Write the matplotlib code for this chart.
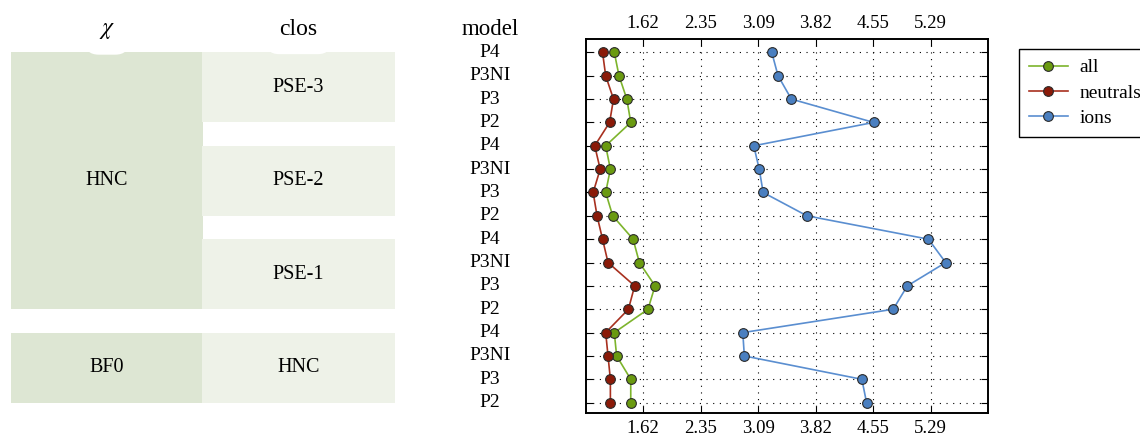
import numpy as np
import matplotlib
matplotlib.use("Agg")
import matplotlib.pyplot as plt

plt.rcParams['font.family'] = ['Liberation Serif', 'DejaVu Serif']
plt.rcParams['mathtext.fontset'] = 'stix'

# rows, top to bottom
models = ['P4', 'P3NI', 'P3', 'P2'] * 4
all_vals = [1.25, 1.31, 1.41, 1.46, 1.14, 1.20, 1.14, 1.23,
            1.49, 1.57, 1.77, 1.68, 1.25, 1.28, 1.46, 1.46]
neutral_vals = [1.10, 1.14, 1.24, 1.19, 1.00, 1.07, 0.98, 1.03,
                1.10, 1.17, 1.51, 1.43, 1.14, 1.17, 1.20, 1.20]
ion_vals = [3.26, 3.34, 3.51, 4.56, 3.03, 3.10, 3.15, 3.71,
            5.26, 5.48, 4.99, 4.81, 2.89, 2.91, 4.41, 4.47]

# grouping table: label, first row, last row
chi_labels = ['HNC', 'BF0']
chi_rows = [(0, 11), (12, 15)]
clos_labels = ['PSE-3', 'PSE-2', 'PSE-1', 'HNC']
clos_rows = [(0, 3), (4, 7), (8, 11), (12, 15)]

x_lo, x_hi = 0.885, 6.02

W, H = 1140, 434
fig = plt.figure(figsize=(W / 100, H / 100), dpi=100)

ax_l, ax_r, ax_t, ax_b = 585.7, 988.0, 39.3, 412.7
rect = [ax_l / W, (H - ax_b) / H, (ax_r - ax_l) / W, (ax_b - ax_t) / H]
ax = fig.add_axes(rect)
tab = fig.add_axes([0, rect[1], ax_l / W, rect[3]])

y = np.arange(len(models))
ylim = (15.43, -0.56)

# ---- main dot plot ----
series = [
    ('all', all_vals, '#7db42c', '#6a9a10'),
    ('neutrals', neutral_vals, '#a8301f', '#8a1a08'),
    ('ions', ion_vals, '#5a8ed0', '#4a7fc0'),
]
for name, vals, lc, fc in series:
    ax.plot(vals, y, color=lc, lw=1.2, marker='o', ms=7,
            mfc=fc, mec='#2a2a2a', mew=0.8, label=name, zorder=3)

ax.set_xlim(x_lo, x_hi)
ax.set_ylim(*ylim)
ticks = np.linspace(x_lo, x_hi, 8)[1:-1]
ax.set_xticks(ticks)
ax.set_xticklabels(['%.2f' % t for t in ticks])
ax.set_yticks(y)
ax.set_yticklabels([])
ax.tick_params(axis='x', which='both', top=True, bottom=True,
               labeltop=True, labelbottom=True, direction='in',
               length=5, width=0.8, pad=5, labelsize=13.5)
ax.tick_params(axis='y', which='both', left=True, right=True,
               direction='in', length=5, width=0.8)
ax.set_axisbelow(True)
ax.grid(True, color='black', lw=0.8, linestyle=(0, (1, 5)))
for sp in ax.spines.values():
    sp.set_linewidth(1.4)
    sp.set_color('black')

leg = fig.legend(loc='upper left', bbox_to_anchor=(1019.3 / W, 1 - 49 / H),
                 borderaxespad=0, fontsize=14, frameon=True,
                 fancybox=False, edgecolor='black', framealpha=1,
                 handlelength=2.0, handletextpad=0.6, borderpad=0.5,
                 labelspacing=0.4)
leg.get_frame().set_linewidth(1.0)

# ---- grouping table ----
tab.set_xlim(0, ax_l)
tab.set_ylim(*ylim)
tab.axis('off')

col1 = (11, 203, '#dde6d3')
col2 = (202, 395, '#eef2e8')
for lab, (a, b) in zip(chi_labels, chi_rows):
    tab.barh((a + b) / 2, col1[1] - col1[0], left=col1[0], height=b - a,
             color=col1[2], lw=0, zorder=1)
    tab.text((col1[0] + col1[1]) / 2, (a + b) / 2, lab, ha='center',
             va='center', fontsize=14.5, zorder=4)
for lab, (a, b) in zip(clos_labels, clos_rows):
    tab.barh((a + b) / 2, col2[1] - col2[0], left=col2[0], height=b - a,
             color=col2[2], lw=0, zorder=2)
    tab.text((col2[0] + col2[1]) / 2, (a + b) / 2, lab, ha='center',
             va='center', fontsize=14.5, zorder=4)

model_x = 490
for yi, m in zip(y, models):
    tab.text(model_x, yi, m, ha='center', va='center', fontsize=14)

hdr_y = 1.0115
hdr_box = dict(boxstyle='round,pad=0.6', fc='white', ec='none')
tab.text(107, hdr_y + 0.004, r'$\chi$', ha='center', va='baseline', fontsize=17,
         transform=tab.get_xaxis_transform(), bbox=hdr_box, zorder=3,
         clip_on=False)
tab.text(298.5, hdr_y, 'clos', ha='center', va='baseline', fontsize=17,
         transform=tab.get_xaxis_transform(), bbox=hdr_box, zorder=3,
         clip_on=False)
tab.text(model_x, hdr_y, 'model', ha='center', va='baseline', fontsize=16.5,
         transform=tab.get_xaxis_transform(), zorder=3, clip_on=False)

fig.savefig('out.png', dpi=100)
